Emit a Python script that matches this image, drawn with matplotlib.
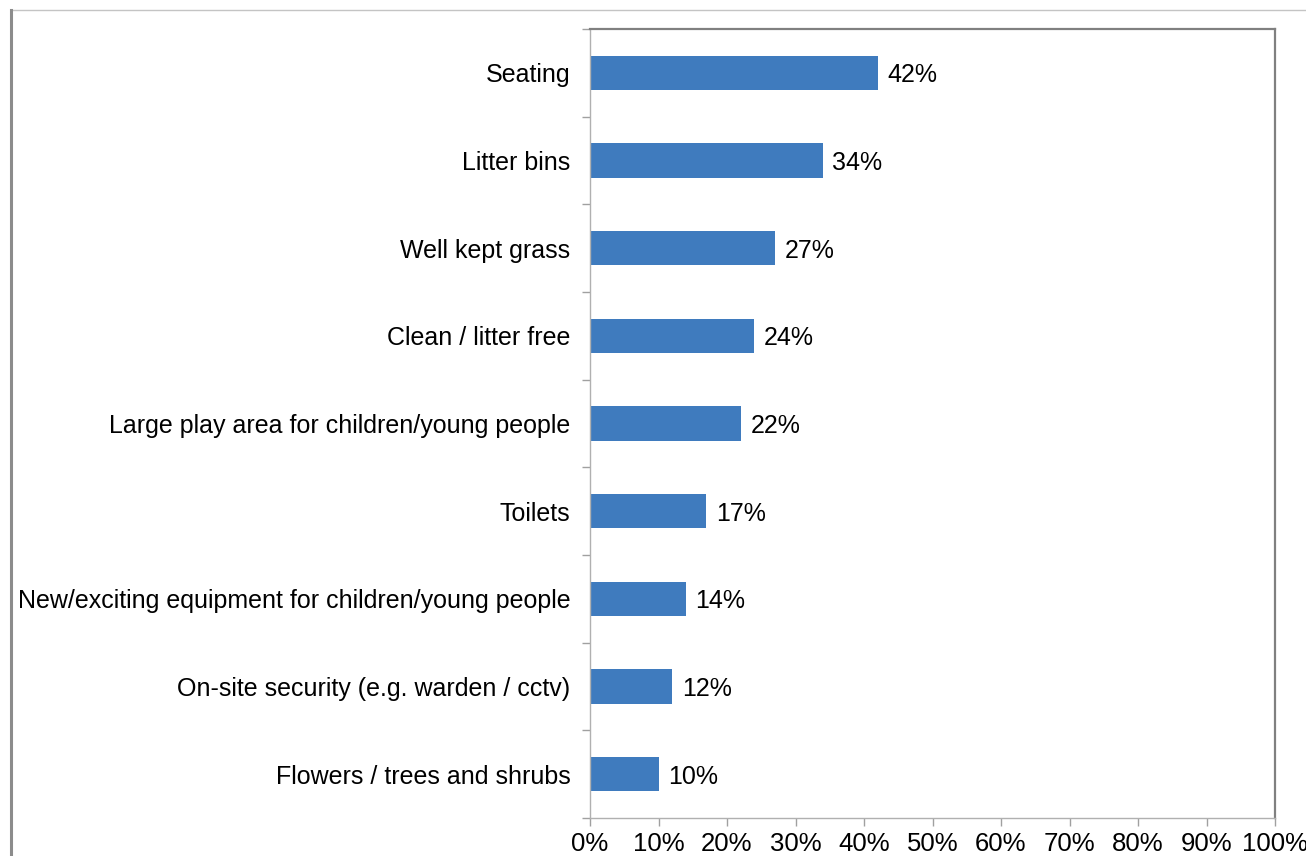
import matplotlib.pyplot as plt
from matplotlib.lines import Line2D
from matplotlib.ticker import FixedLocator, PercentFormatter

plt.rcParams['font.family'] = ['Liberation Sans', 'DejaVu Sans']

# Data
categories = [
    'Seating',
    'Litter bins',
    'Well kept grass',
    'Clean / litter free',
    'Large play area for children/young people',
    'Toilets',
    'New/exciting equipment for children/young people',
    'On-site security (e.g. warden / cctv)',
    'Flowers / trees and shrubs',
]
values = [42, 34, 27, 24, 22, 17, 14, 12, 10]

BAR_COLOR = '#3f7bbe'
FS = 18

fig = plt.figure(figsize=(13.06, 8.56), dpi=100)
ax = fig.add_axes([590 / 1306, 38 / 856, 685 / 1306, 789 / 856])

n = len(categories)
ypos = list(range(n))[::-1]
ax.barh(ypos, values, height=0.39, color=BAR_COLOR, zorder=2)

for y, v in zip(ypos, values):
    ax.text(v + 1.4, y, f'{v}%', va='center_baseline', ha='left', fontsize=FS)

ax.set_xlim(0, 100)
ax.set_ylim(-0.5, n - 0.5)
ax.set_xticks(range(0, 101, 10))
ax.xaxis.set_major_formatter(PercentFormatter(decimals=0))

ax.set_yticks(ypos)
ax.set_yticklabels(categories)
ax.yaxis.set_minor_locator(FixedLocator([i - 0.5 for i in range(n + 1)]))
ax.tick_params(axis='y', which='major', length=0, pad=14, labelsize=FS)
ax.tick_params(axis='y', which='minor', length=6, color='#a0a0a0', width=1)
ax.tick_params(axis='x', length=6, color='#a0a0a0', width=1, pad=4, labelsize=18.5)

ax.spines['left'].set_color('#b0b0b0')
ax.spines['bottom'].set_color('#b0b0b0')
ax.spines['top'].set_color('#808080')
ax.spines['right'].set_color('#808080')
ax.spines['top'].set_linewidth(1.6)
ax.spines['right'].set_linewidth(1.6)
for s in ('left', 'bottom'):
    ax.spines[s].set_linewidth(1.0)

# outer frame lines
fig.add_artist(Line2D([11 / 1306, 1.0], [1 - 10 / 856, 1 - 10 / 856],
                      transform=fig.transFigure, color='#c4c4c4', lw=1.0))
fig.add_artist(Line2D([11 / 1306, 11 / 1306], [0, 1 - 10 / 856],
                      transform=fig.transFigure, color='#8c8c8c', lw=2.2))

fig.savefig('out.png', dpi=100)
